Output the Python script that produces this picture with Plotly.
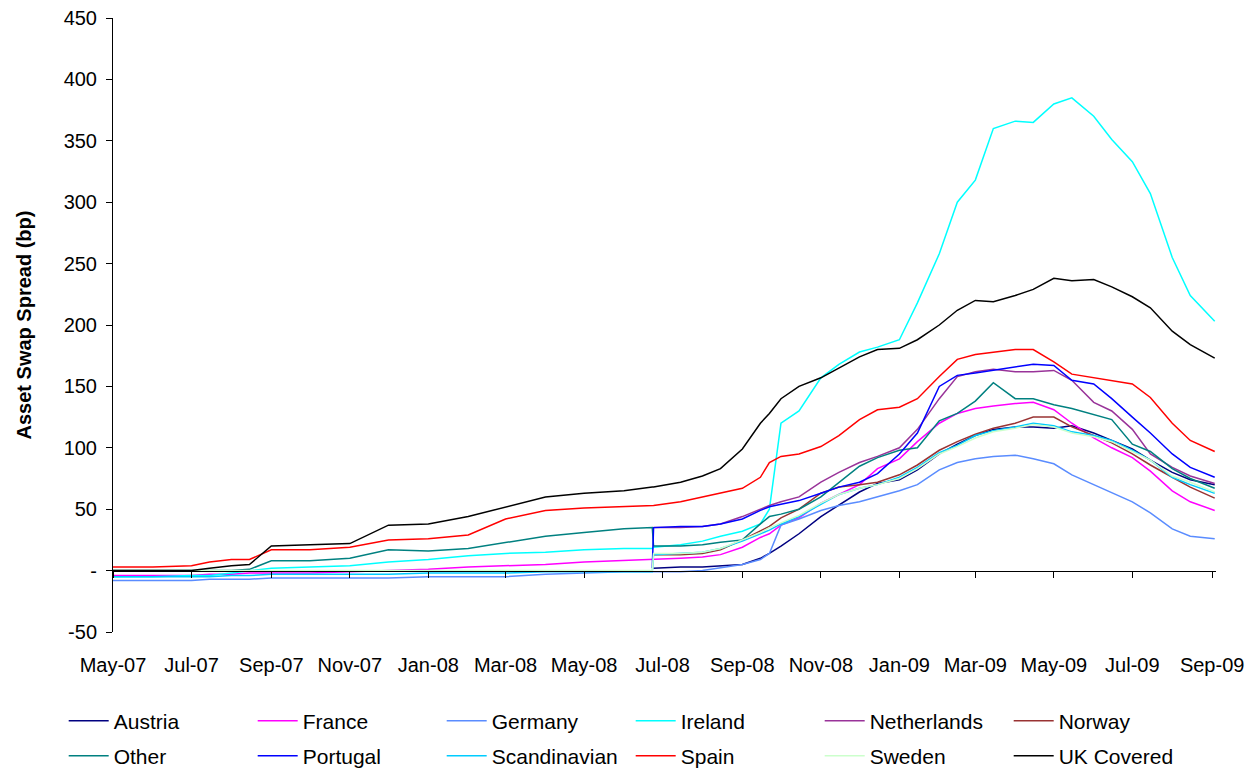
import plotly.graph_objects as go

dates = ["2007-05-01", "2007-06-01", "2007-07-01", "2007-07-15", "2007-08-01", "2007-08-15",
         "2007-09-01", "2007-10-01", "2007-11-01", "2007-12-01",
         "2008-01-01", "2008-02-01", "2008-03-01", "2008-04-01", "2008-05-01", "2008-06-01",
         "2008-06-23", "2008-06-24", "2008-07-15", "2008-08-01", "2008-08-15", "2008-09-01",
         "2008-09-15", "2008-09-22", "2008-10-01", "2008-10-15", "2008-11-01", "2008-11-15",
         "2008-12-01", "2008-12-15",
         "2009-01-01", "2009-01-15", "2009-02-01", "2009-02-15", "2009-03-01", "2009-03-15",
         "2009-04-01", "2009-04-15", "2009-05-01", "2009-05-15", "2009-06-01", "2009-06-15",
         "2009-07-01", "2009-07-15", "2009-08-01", "2009-08-15", "2009-09-03"]

austria = [None] * 17 + [2, 3, 3, 4, 5, 10, 14, 20, 30, 44,
                         53, 64, 71, 74, 82, 95, 103, 110, 115, 117,
                         117, 116, 118, 112, 106, 99, 90, 80, 74, 70]
france = [-4, -4, -4, -3, -3, -2, -2, -2, -1, 0,
          1, 3, 4, 5, 7, 8, 9, 9, 10, 11,
          13, 19, 27, 30, 37, 43, 55, 62, 70, 83,
          91, 105, 120, 128, 132, 134, 136, 137, 131, 120,
          108, 100, 92, 81, 65, 56, 49]
germany = [-8, -8, -8, -7, -7, -7, -6, -6, -6, -6,
           -5, -5, -5, -3, -2, -1, -1, -1, -1, 0,
           2, 5, 9, 14, 37, 42, 49, 53, 56, 60,
           65, 70, 82, 88, 91, 93, 94, 91, 87, 78,
           70, 64, 56, 47, 34, 28, 26]
ireland = [-5, -5, -4, -4, -2, 0, 2, 3, 4, 7,
           9, 12, 14, 15, 17, 18, 18, 19, 21, 24,
           28, 32, 38, 50, 120, 130, 157, 168, 178, 182,
           188, 218, 258, 300, 318, 360, 366, 365, 380, 385,
           370, 351, 333, 307, 255, 224, 203]
netherlands = [None] * 17 + [35, 35, 36, 38, 44, 50, 53, 56, 60, 72,
                             80, 88, 93, 100, 115, 140, 158, 162, 164, 162,
                             162, 163, 155, 137, 130, 115, 95, 84, 77, 71]
norway = [None] * 17 + [13, 13, 14, 17, 25, 32, 36, 43, 50, 63,
                        68, 70, 72, 78, 86, 98, 105, 111, 116, 120,
                        125, 125, 117, 110, 104, 95, 86, 76, 68, 59]
other = [0, 0, 0, 0, 0, 1, 8, 8, 10, 17,
         16, 18, 23, 28, 31, 34, 35, 20, 20, 21,
         23, 25, 38, 44, 46, 50, 60, 72, 85, 92,
         98, 100, 122, 128, 138, 153, 140, 140, 135, 132,
         127, 123, 103, 97, 83, 75, 67]
portugal = [None] * 16 + [2, 35, 36, 36, 38, 42, 49, 52, 54, 57,
                          63, 68, 72, 79, 95, 112, 150, 159, 161, 163,
                          166, 168, 167, 155, 152, 140, 125, 112, 95, 84, 76]
scandinavian = [-5, -5, -5, -5, -4, -4, -3, -3, -3, -3,
                -2, -2, -2, -1, -1, -1, -1, 13, 14, 15,
                18, 24, 30, 33, 38, 44, 54, 62, 67, 70,
                76, 84, 96, 102, 110, 114, 117, 120, 118, 113,
                110, 106, 98, 90, 76, 70, 63]
spain = [3, 3, 4, 7, 9, 9, 17, 17, 19, 25,
         26, 29, 42, 49, 51, 52, 53, 53, 56, 60,
         63, 67, 76, 88, 93, 95, 101, 110, 123, 131,
         133, 140, 158, 172, 176, 178, 180, 180, 170, 160,
         157, 155, 152, 141, 120, 106, 97]
sweden = [0, 0, 0, 0, 0, 0, 0, 0, 0, 0,
          0, 0, 0, 0, 0, 0, 0, 14, 14, 15,
          18, 25, 31, 35, 39, 45, 55, 62, 67, 70,
          75, 83, 95, 101, 108, 113, 116, 119, 117, 112,
          109, 105, 97, 90, 77, 72, 64]
uk_covered = [0, 0, 0, 2, 4, 5, 20, 21, 22, 37,
              38, 44, 52, 60, 63, 65, 68, 68, 72, 77,
              83, 99, 120, 128, 140, 150, 157, 165, 174, 180,
              181, 188, 200, 212, 220, 219, 224, 229, 238, 236,
              237, 231, 223, 214, 195, 184, 173]

series_names = ["Austria", "France", "Germany", "Ireland", "Netherlands", "Norway",
                "Other", "Portugal", "Scandinavian", "Spain", "Sweden", "UK Covered"]
series_values = [austria, france, germany, ireland, netherlands, norway,
                 other, portugal, scandinavian, spain, sweden, uk_covered]
series_colors = ["#000080", "#FF00FF", "#5A8CFF", "#00FFFF", "#993399", "#993333",
                 "#008080", "#0000FF", "#00CCFF", "#FF0000", "#CCFFCC", "#000000"]

x_tick_vals = ["2007-05-01", "2007-07-01", "2007-09-01", "2007-11-01", "2008-01-01",
               "2008-03-01", "2008-05-01", "2008-07-01", "2008-09-01", "2008-11-01",
               "2009-01-01", "2009-03-01", "2009-05-01", "2009-07-01", "2009-09-01"]
x_tick_text = ["May-07", "Jul-07", "Sep-07", "Nov-07", "Jan-08", "Mar-08", "May-08",
               "Jul-08", "Sep-08", "Nov-08", "Jan-09", "Mar-09", "May-09", "Jul-09", "Sep-09"]
y_tick_vals = [-50, 0, 50, 100, 150, 200, 250, 300, 350, 400, 450]
y_tick_text = ["-50", "-", "50", "100", "150", "200", "250", "300", "350", "400", "450"]

FONT = "Liberation Sans, Arial, sans-serif"

fig = go.Figure()
for i, (nm, vals, col) in enumerate(zip(series_names, series_values, series_colors)):
    fig.add_trace(go.Scatter(
        x=dates, y=vals, name=nm, mode="lines",
        line=dict(color=col, width=1.5),
        legend="legend" if i < 6 else "legend2",
    ))

# helper trace so the zero-crossing axis (with tick marks) is drawn
fig.add_trace(go.Scatter(x=[None], y=[None], xaxis="x2", showlegend=False,
                         hoverinfo="skip", mode="lines"))

legend_common = dict(
    orientation="h", x=-0.0447, xanchor="left", yanchor="middle",
    entrywidth=134, entrywidthmode="pixels", itemwidth=40,
    font=dict(family=FONT, size=21, color="black"),
    bgcolor="rgba(0,0,0,0)", borderwidth=0,
)

fig.update_layout(
    width=1251, height=772,
    margin=dict(l=113, r=35, t=18, b=140, autoexpand=False),
    plot_bgcolor="white", paper_bgcolor="white",
    font=dict(family=FONT, size=20, color="black"),
    showlegend=True,
    xaxis=dict(
        type="date", range=["2007-05-01", "2009-09-04"],
        tickvals=x_tick_vals, ticktext=x_tick_text,
        showgrid=False, zeroline=False, showline=False, ticks="",
        ticklabelstandoff=19, automargin=False,
        tickfont=dict(family=FONT, size=20, color="black"),
    ),
    xaxis2=dict(
        type="date", range=["2007-05-01", "2009-09-04"], matches="x",
        overlaying="x", anchor="free", position=0.1, side="bottom",
        tickvals=x_tick_vals, showticklabels=False,
        showgrid=False, zeroline=False, automargin=False,
        showline=True, linecolor="black", linewidth=1,
        ticks="outside", ticklen=6, tickwidth=1, tickcolor="black",
    ),
    yaxis=dict(
        range=[-50, 450], tickvals=y_tick_vals, ticktext=y_tick_text,
        showgrid=False, zeroline=False, automargin=False,
        showline=True, linecolor="black", linewidth=1,
        ticks="outside", ticklen=6, tickwidth=1, tickcolor="black",
        ticklabelstandoff=5,
        tickfont=dict(family=FONT, size=20, color="black"),
        title=dict(text="<b>Asset Swap Spread (bp)</b>",
                   font=dict(family=FONT, size=20, color="black"), standoff=26),
    ),
    legend=dict(y=-0.145, **legend_common),
    legend2=dict(y=-0.202, **legend_common),
)

fig.write_html(
    "out.html",
    config={"displayModeBar": False},
    post_script="document.body.style.margin='0';document.body.style.overflow='hidden';",
)
